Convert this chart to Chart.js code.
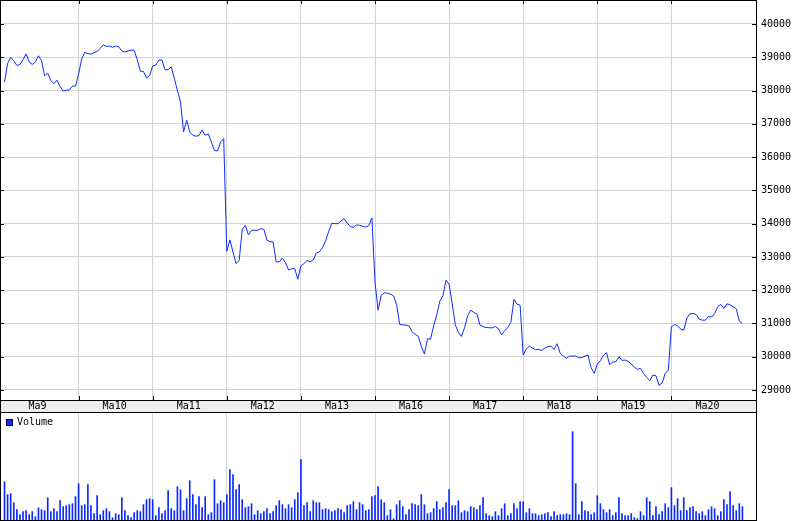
<!DOCTYPE html>
<html>
<head>
<meta charset="utf-8">
<script src="https://cdn.jsdelivr.net/npm/chart.js@4.4.1/dist/chart.umd.min.js"></script>
<style>
  body { margin: 0; background: #fff; }
  #wrap { position: relative; width: 802px; height: 521px; }
  #priceBox { position: absolute; left: 0; top: 0; width: 802px; height: 412px; }
  #volBox { position: absolute; left: 0; top: 412px; width: 802px; height: 109px; }
  #volLegend { position: absolute; left: 6px; top: 417px; font: 10px "DejaVu Sans Mono", monospace; line-height: 10px; color: #000; }
  #volLegend i { display: inline-block; width: 5px; height: 5px; border: 1px solid #000044; background: #0a2aff; margin-right: 4px; vertical-align: -1px; }
</style>
</head>
<body>
<div id="wrap">
  <div id="priceBox"><canvas id="price"></canvas></div>
  <div id="volBox"><canvas id="vol"></canvas></div>
  <div id="volLegend"><i></i>Volume</div>
</div>
<script>
// trading days on the x axis, 24 bars each
const days = ['Ma9', 'Ma10', 'Ma11', 'Ma12', 'Ma13', 'Ma16', 'Ma17', 'Ma18', 'Ma19', 'Ma20'];
const barsPerDay = 24;
const priceTicks = [29000, 30000, 31000, 32000, 33000, 34000, 35000, 36000, 37000, 38000, 39000, 40000];

// price (one value per bar)
const prices = [
  38250, 38815, 38996, 38896, 38755, 38785, 38926, 39100, 38855, 38785, 38855, 39046, 38896, 38444, 38524, 38303, 38203, 38313, 38122, 37982, 38012, 38012, 38133, 38133,
  38494, 38946, 39147, 39106, 39096, 39137, 39177, 39267, 39378, 39327, 39337, 39297, 39337, 39317, 39187, 39157, 39187, 39217, 39207, 38926, 38584, 38574, 38374, 38454,
  38735, 38765, 38916, 38916, 38625, 38625, 38715, 38364, 38002, 37661, 36757, 37108, 36757, 36657, 36627, 36647, 36817, 36657, 36697, 36456, 36195, 36185, 36456, 36556,
  33170, 33510, 33150, 32800, 32890, 33830, 33950, 33660, 33800, 33800, 33800, 33850, 33830, 33500, 33460, 33450, 32850, 32850, 32970, 32820, 32610, 32640, 32650, 32330,
  32730, 32800, 32890, 32850, 32910, 33120, 33150, 33280, 33480, 33770, 34010, 34000, 34000, 34080, 34150, 34020, 33910, 33890, 33960, 33950, 33920, 33900, 33940, 34170,
  32250, 31400, 31840, 31920, 31910, 31880, 31830, 31570, 30970, 30960, 30950, 30930, 30750, 30670, 30620, 30310, 30080, 30540, 30530, 30930, 31260, 31670, 31830, 32300,
  32180, 31600, 30960, 30730, 30610, 30870, 31230, 31400, 31330, 31290, 30950, 30900, 30880, 30870, 30870, 30910, 30840, 30660, 30780, 30880, 31030, 31720, 31580, 31550,
  30050, 30230, 30320, 30260, 30210, 30220, 30190, 30260, 30300, 30320, 30220, 30390, 30100, 30020, 29950, 30020, 30020, 30020, 29970, 29970, 30020, 30050, 29670, 29500,
  29780, 29880, 30050, 30120, 29760, 29840, 29850, 30000, 29890, 29900, 29860, 29780, 29690, 29620, 29650, 29490, 29380, 29280, 29450, 29430, 29140, 29210, 29500, 29600,
  30900, 30970, 30930, 30830, 30800, 31160, 31290, 31300, 31270, 31130, 31100, 31100, 31210, 31190, 31300, 31500, 31570, 31450, 31590, 31560, 31500, 31440, 31070, 31000
];

// volume (relative units)
const volumes = [
  115, 76, 79, 52, 31, 16, 25, 28, 16, 25, 10, 37, 31, 28, 67, 25, 34, 25, 58, 40, 43, 46, 49, 70,
  109, 43, 46, 106, 43, 19, 73, 16, 28, 34, 25, 7, 19, 16, 67, 28, 13, 7, 22, 28, 25, 46, 61, 64,
  61, 13, 37, 19, 28, 88, 34, 28, 100, 91, 28, 64, 118, 76, 46, 70, 37, 70, 16, 22, 121, 49, 58, 52,
  76, 151, 136, 91, 106, 61, 37, 40, 49, 16, 28, 19, 25, 34, 19, 25, 43, 58, 46, 34, 46, 37, 61, 82,
  181, 43, 52, 25, 58, 52, 52, 31, 34, 31, 25, 28, 34, 31, 22, 43, 46, 55, 31, 52, 46, 28, 31, 70,
  73, 100, 61, 52, 13, 31, 4, 46, 58, 40, 16, 31, 49, 46, 43, 76, 46, 19, 22, 34, 55, 31, 37, 52,
  91, 43, 43, 58, 22, 28, 25, 40, 37, 31, 43, 67, 19, 13, 10, 25, 13, 34, 49, 13, 19, 49, 34, 55,
  55, 22, 34, 19, 19, 13, 16, 19, 22, 10, 25, 13, 16, 16, 19, 16, 265, 109, 16, 55, 28, 25, 16, 22,
  73, 49, 31, 22, 31, 13, 22, 67, 19, 13, 13, 19, 7, 4, 25, 13, 67, 55, 13, 40, 16, 25, 49, 37,
  97, 43, 64, 28, 67, 28, 37, 40, 25, 19, 25, 13, 31, 40, 34, 13, 25, 61, 46, 85, 43, 28, 49, 40
];

const lineColor = '#0a2aff';
const gridColor = '#d4d4d4';
const tickFont = { family: 'DejaVu Sans Mono', size: 10 };
const xMin = -1.4575, xMax = 243.4;
const dayStarts = days.map((d, k) => k * barsPerDay);

Chart.defaults.animation = false;
Chart.defaults.font.family = 'DejaVu Sans Mono';
Chart.defaults.color = '#000';

function dayTicks(scale) {
  scale.ticks = dayStarts.map(v => ({ value: v }));
}
function dayGrid(ctx) {
  return ctx.tick && ctx.tick.value === 0 ? 'rgba(0,0,0,0)' : gridColor;
}

// black frame plus the short tick marks on the plot edges
const frame = {
  id: 'frame',
  afterDraw(chart, args, opts) {
    const { ctx, chartArea: a, scales } = chart;
    ctx.save();
    ctx.strokeStyle = '#000';
    ctx.lineWidth = 1;
    ctx.strokeRect(a.left + 0.5, a.top + 0.5, a.right - a.left, a.bottom - a.top);
    if (opts.full) {
      ctx.strokeRect(a.left + 0.5, a.top + 0.5, a.right - a.left, chart.height);
    }
    if (opts.marks) {
      ctx.beginPath();
      scales.x.ticks.forEach(t => {
        if (t.value === 0) return;
        const px = Math.round(scales.x.getPixelForValue(t.value)) + 0.5;
        ctx.moveTo(px, a.top); ctx.lineTo(px, a.top + 4);
        ctx.moveTo(px, a.bottom - 4); ctx.lineTo(px, a.bottom);
      });
      scales.y.ticks.forEach(t => {
        const py = Math.round(scales.y.getPixelForValue(t.value)) + 0.5;
        ctx.moveTo(a.left, py); ctx.lineTo(a.left + 4, py);
        ctx.moveTo(a.right - 4, py); ctx.lineTo(a.right, py);
      });
      ctx.stroke();
    }
    ctx.restore();
  }
};

new Chart(document.getElementById('price'), {
  type: 'line',
  data: {
    datasets: [{
      label: 'Price',
      data: prices.map((p, i) => ({ x: i, y: p })),
      borderColor: lineColor,
      borderWidth: 1,
      pointRadius: 0,
      tension: 0,
      fill: false
    }]
  },
  plugins: [frame],
  options: {
    responsive: true,
    maintainAspectRatio: false,
    layout: { padding: 0 },
    plugins: { legend: { display: false }, tooltip: { enabled: false }, frame: { full: true, marks: true } },
    scales: {
      x: {
        type: 'linear',
        min: xMin,
        max: xMax,
        backgroundColor: '#eeeeee',
        afterBuildTicks: dayTicks,
        afterFit(s) { s.height = 12; s.paddingLeft = 0; s.paddingRight = 0; },
        grid: { color: dayGrid, drawTicks: false },
        border: { display: false },
        ticks: {
          font: tickFont,
          padding: 0,
          align: 'start',
          labelOffset: 24,
          autoSkip: false,
          maxRotation: 0,
          callback: (v, i) => days[i]
        }
      },
      y: {
        position: 'right',
        min: 28699.4,
        max: 40721.3,
        afterBuildTicks(s) { s.ticks = priceTicks.map(v => ({ value: v })); },
        afterFit(s) { s.width = 46; s.paddingTop = 0; s.paddingBottom = 0; },
        grid: { color: gridColor, drawTicks: false },
        border: { display: false },
        ticks: { font: tickFont, padding: 5, callback: v => String(v) }
      }
    }
  }
});

new Chart(document.getElementById('vol'), {
  type: 'bar',
  data: {
    datasets: [{
      label: 'Volume',
      data: volumes.map((v, i) => ({ x: i, y: v })),
      backgroundColor: lineColor,
      barThickness: 1
    }]
  },
  plugins: [frame],
  options: {
    responsive: true,
    maintainAspectRatio: false,
    layout: { padding: 0 },
    plugins: { legend: { display: false }, tooltip: { enabled: false }, frame: { full: false, marks: false } },
    scales: {
      x: {
        type: 'linear',
        offset: false,
        min: xMin,
        max: xMax,
        afterBuildTicks: dayTicks,
        afterFit(s) { s.height = 1; s.paddingLeft = 0; s.paddingRight = 0; },
        grid: { color: dayGrid, drawTicks: false, offset: false },
        border: { display: false },
        ticks: { display: false }
      },
      y: {
        position: 'right',
        min: 0,
        max: 324,
        afterFit(s) { s.width = 46; s.paddingTop = 0; s.paddingBottom = 0; },
        grid: { display: false, drawTicks: false },
        border: { display: false },
        ticks: { display: false }
      }
    }
  }
});
</script>
</body>
</html>
